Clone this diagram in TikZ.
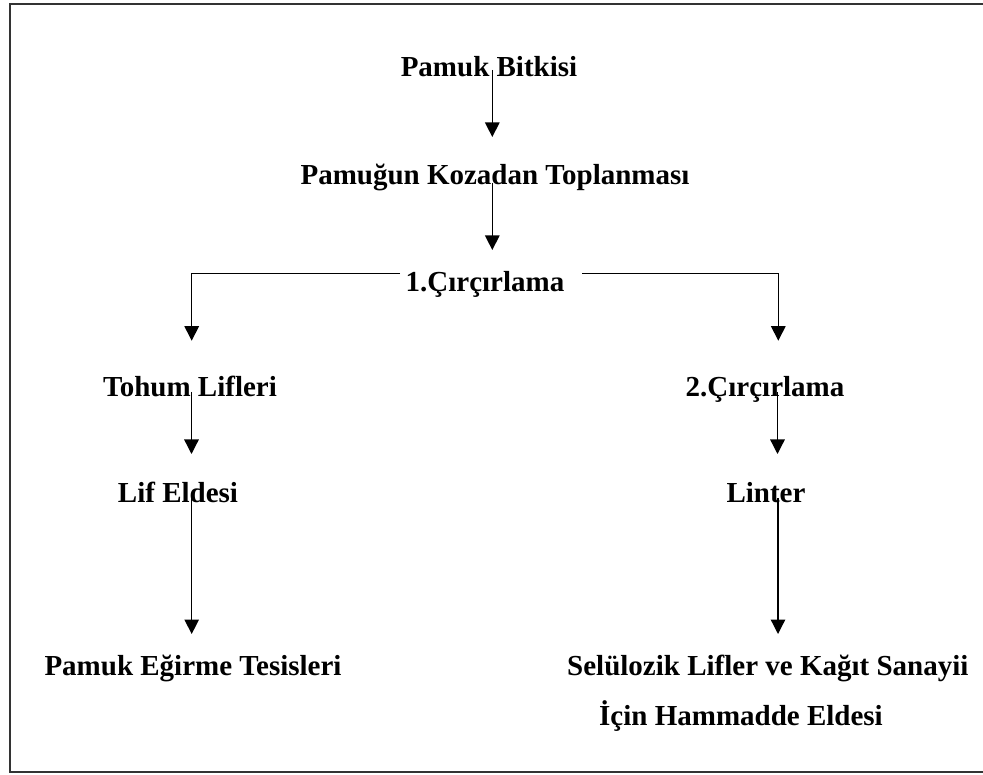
\documentclass[tikz,border=0pt]{standalone}
\usepackage{fontspec}
\setmainfont{Liberation Serif}
\usetikzlibrary{arrows.meta}
\begin{document}
\begin{tikzpicture}[x=1pt,y=-1pt,
  lbl/.style={font=\fontsize{29}{50}\selectfont\bfseries, inner sep=0pt, anchor=base},
  conn/.style={line width=1.3pt, -{Triangle[length=14.5pt,width=14.5pt]}}]
\useasboundingbox (0,0) rectangle (983,775);
\draw[line width=1.8pt, black!80] (995,4) -- (10,4) -- (10,772) -- (995,772);
% labels
\node[lbl] (pb) at (489,77) {Pamuk Bitkisi};
\node[lbl] (pk) at (495,185) {Pamuğun Kozadan Toplanması};
\node[lbl] (c1) at (485,292) {1.Çırçırlama};
\node[lbl] (tl) at (190,397) {Tohum Lifleri};
\node[lbl] (c2) at (765,397) {2.Çırçırlama};
\node[lbl] (le) at (178,503) {Lif Eldesi};
\node[lbl] (li) at (766,503) {Linter};
\node[lbl] (pe) at (193,675) {Pamuk Eğirme Tesisleri};
\node[lbl, anchor=base west, align=left] (se) at (567,725) {Selülozik Lifler ve Kağıt Sanayii\\\hspace*{32pt}İçin Hammadde Eldesi};
% connector ends
\coordinate (a1s) at (492.3,70);  \coordinate (a1e) at (492.3,137);
\coordinate (a2s) at (492.3,183); \coordinate (a2e) at (492.3,250);
\coordinate (c1l) at (400,273.3); \coordinate (jl) at (191.7,273.3); \coordinate (jle) at (191.7,340.7);
\coordinate (c1r) at (582,273.3); \coordinate (jr) at (778.3,273.3); \coordinate (jre) at (778.3,340.7);
\coordinate (a3s) at (191.5,392); \coordinate (a3e) at (191.5,454);
\coordinate (a4s) at (777.5,392); \coordinate (a4e) at (777.5,454);
\coordinate (a5s) at (191.7,498); \coordinate (a5e) at (191.7,634);
\coordinate (a6s) at (778,498);   \coordinate (a6e) at (778,634);
% connectors
\draw[conn] (a1s) -- (a1e);
\draw[conn] (a2s) -- (a2e);
\draw[conn] (c1l) -- (jl) -- (jle);
\draw[conn] (c1r) -- (jr) -- (jre);
\draw[conn] (a3s) -- (a3e);
\draw[conn] (a4s) -- (a4e);
\draw[conn] (a5s) -- (a5e);
\draw[conn] (a6s) -- (a6e);
\end{tikzpicture}
\end{document}
